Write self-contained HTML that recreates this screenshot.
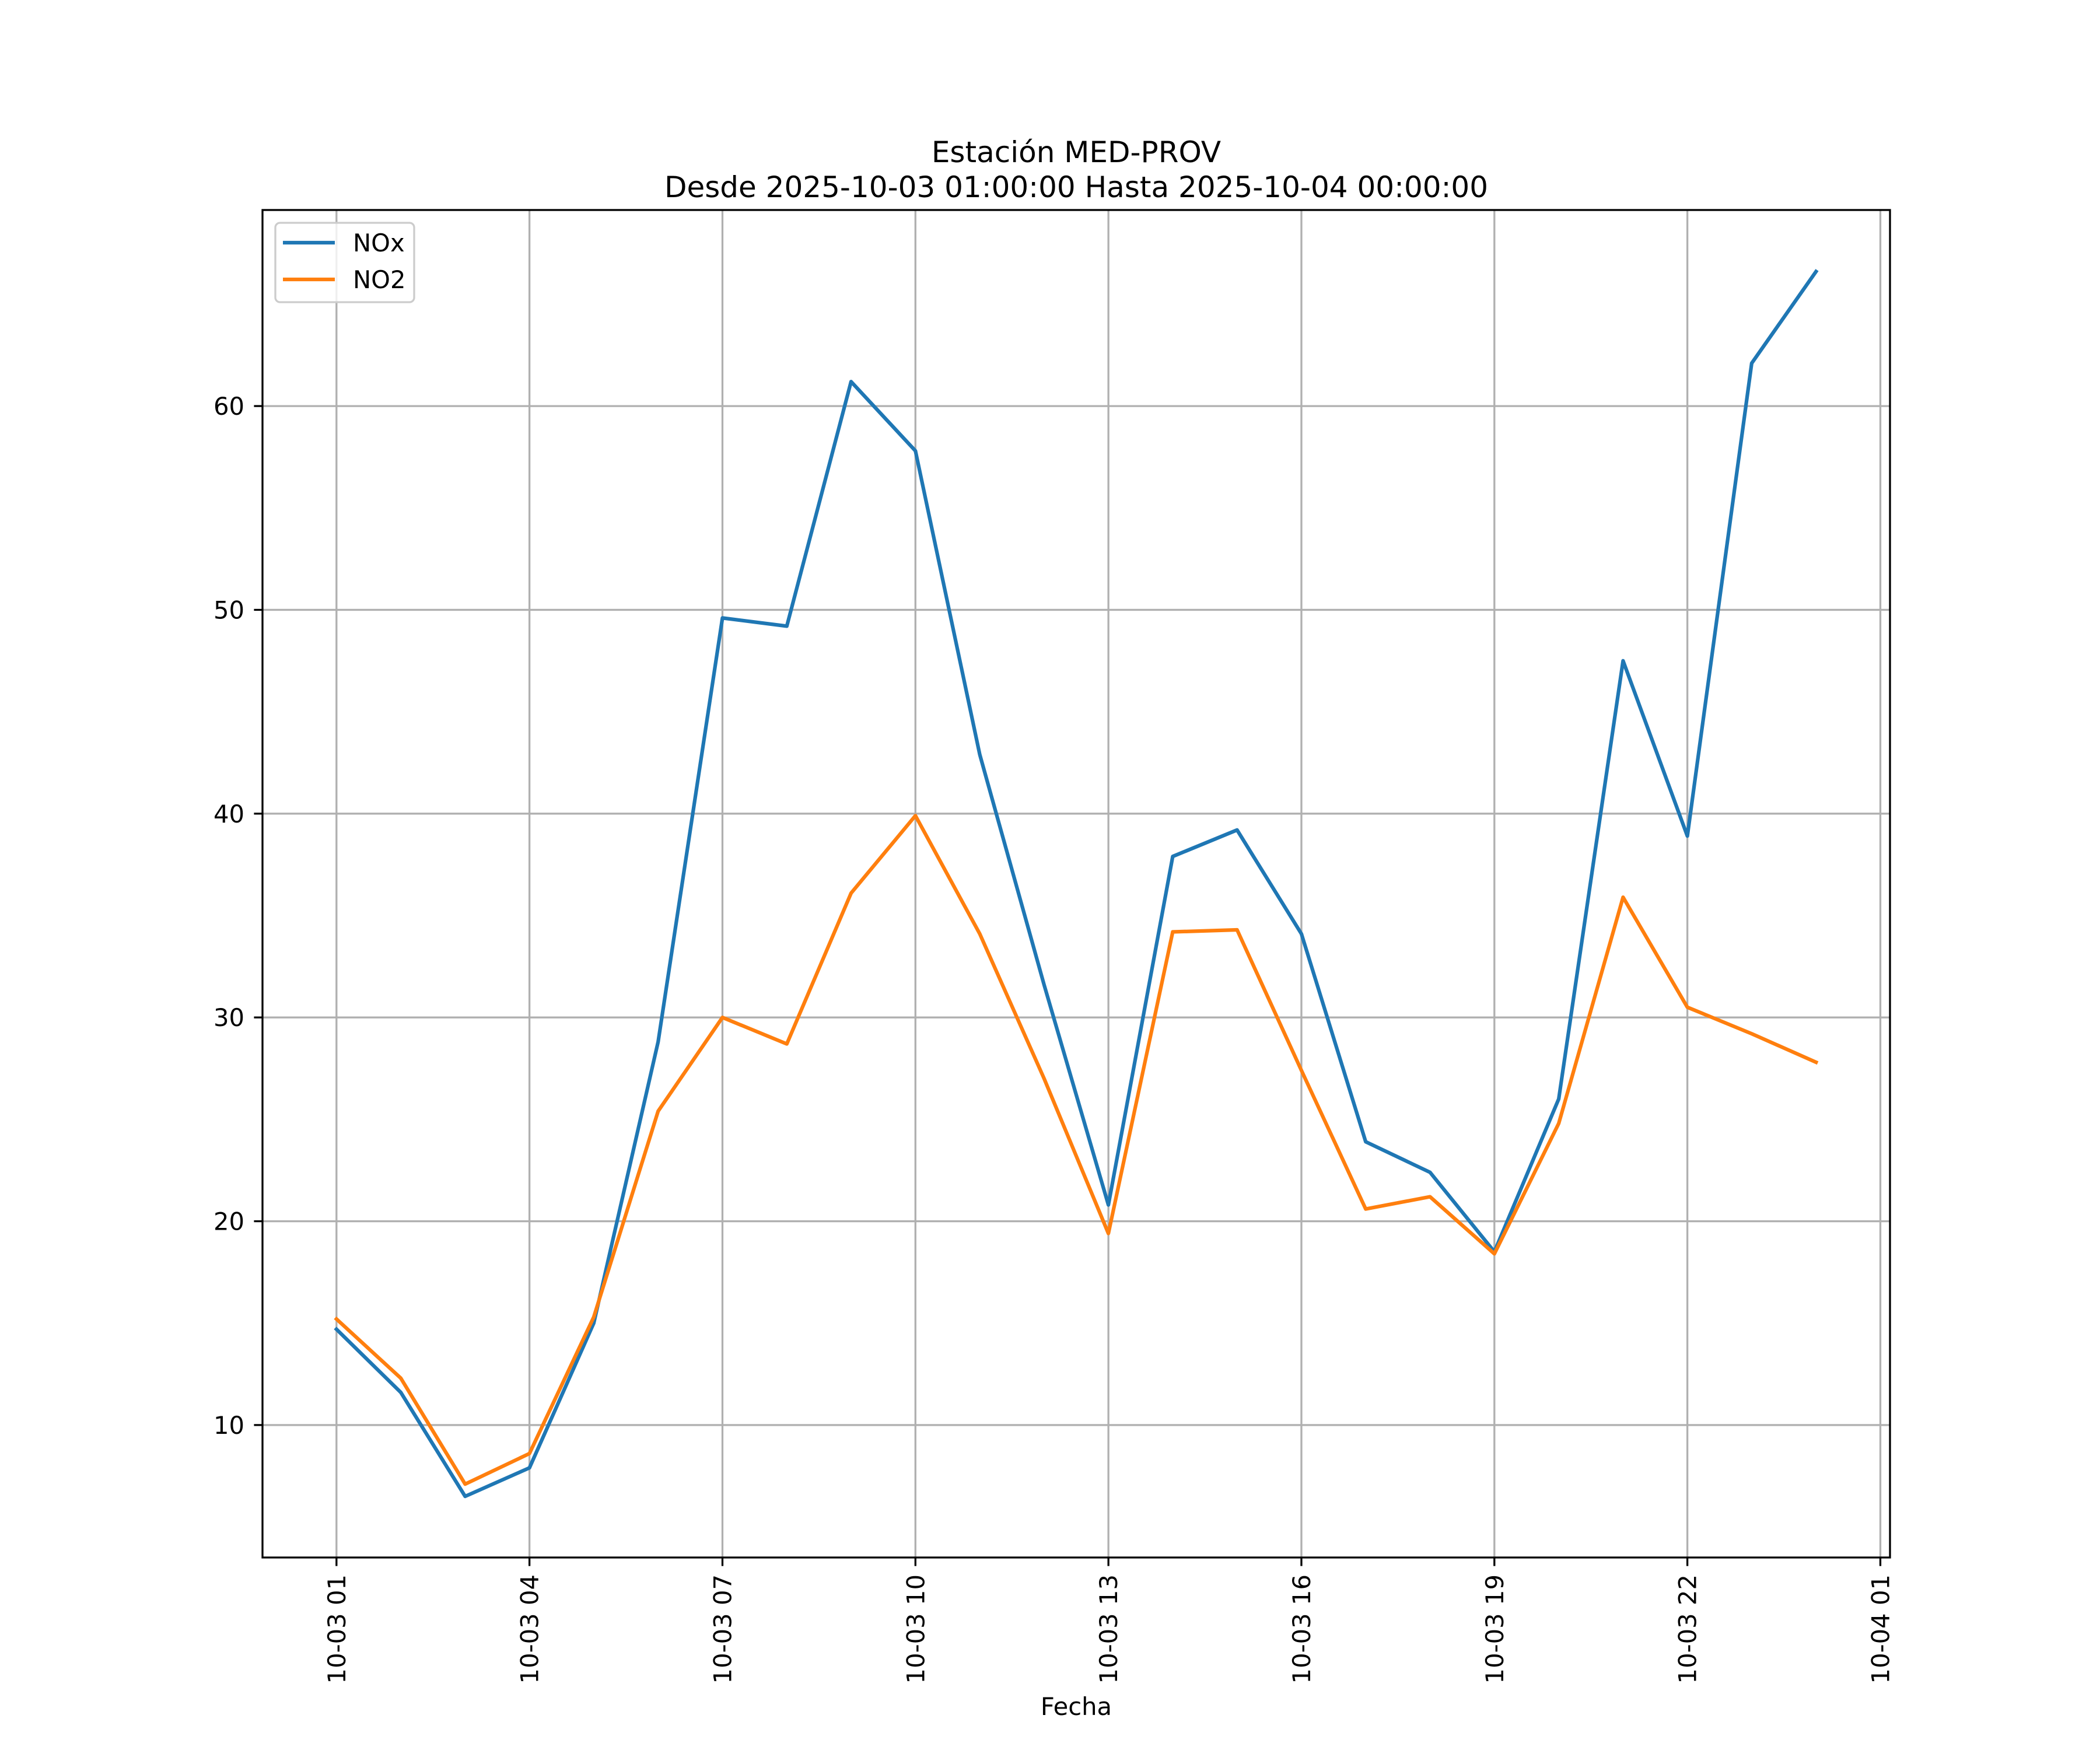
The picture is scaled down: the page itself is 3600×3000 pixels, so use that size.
<!DOCTYPE html>
<html><head><meta charset="utf-8"><style>
html,body{margin:0;padding:0;background:#fff;}
svg{display:block;font-family:"DejaVu Sans","Liberation Sans",sans-serif;}
</style></head><body>
<svg id="chart" width="3600" height="3000" viewBox="0 0 3600 3000" xmlns="http://www.w3.org/2000/svg">
<rect width="3600" height="3000" fill="#fff"/>
<text x="1845" y="278" font-size="50" text-anchor="middle">Estación MED-PROV</text>
<text x="1845" y="338" font-size="50" text-anchor="middle">Desde 2025-10-03 01:00:00 Hasta 2025-10-04 00:00:00</text>
<g id="grid"></g>
<g id="series"></g>
<rect x="450" y="360" width="2790" height="2310" fill="none" stroke="#000" stroke-width="3.3"/>
<g id="ticks"></g>
<text x="1845" y="2940" font-size="41.7" text-anchor="middle">Fecha</text>
<g>
<rect x="472" y="382" width="238" height="136" rx="8" fill="#fff" fill-opacity="0.8" stroke="#cccccc" stroke-width="3.3"/>
<line x1="485" y1="416" x2="574" y2="416" stroke="#1f77b4" stroke-width="6.25"/>
<text x="605" y="431" font-size="41.7">NOx</text>
<line x1="485" y1="479" x2="574" y2="479" stroke="#ff7f0e" stroke-width="6.25"/>
<text x="605" y="494" font-size="41.7">NO2</text>
</g>
</svg>
<script>
const hours = [1,2,3,4,5,6,7,8,9,10,11,12,13,14,15,16,17,18,19,20,21,22,23,24];
const noxValues = [14.7,11.6,6.5,7.9,15.0,28.8,49.6,49.2,61.2,57.8,42.9,31.6,20.8,37.9,39.2,34.1,23.9,22.4,18.5,26.0,47.5,38.9,62.1,66.6];
const no2Values = [15.2,12.3,7.1,8.6,15.3,25.4,30.0,28.7,36.1,39.9,34.1,27.0,19.4,34.2,34.3,27.4,20.6,21.2,18.4,24.8,35.9,30.5,29.2,27.8];
const xTickHours = [1,4,7,10,13,16,19,22,25];
const xTickLabels = ["10-03 01","10-03 04","10-03 07","10-03 10","10-03 13","10-03 16","10-03 19","10-03 22","10-04 01"];
const yTicks = [10,20,30,40,50,60];

const NS = "http://www.w3.org/2000/svg";
const L=450,R=3240,T=360,B=2670;
const xMin=1-1.15,xMax=24+1.15,yMin=3.50,yMax=69.62;
function xs(h){return L+(h-xMin)/(xMax-xMin)*(R-L);}
function ys(v){return B-(v-yMin)/(yMax-yMin)*(B-T);}
function mk(tag,attrs,parent){const e=document.createElementNS(NS,tag);for(const k in attrs)e.setAttribute(k,attrs[k]);parent.appendChild(e);return e;}
const grid=document.getElementById('grid'),ticks=document.getElementById('ticks'),series=document.getElementById('series');
xTickHours.forEach((h,i)=>{
  const x=xs(h);
  const g=mk('line',{x1:x,y1:T,x2:x,y2:B,stroke:'#b0b0b0','stroke-width':3.3},grid);
  
  
  const t=mk('line',{x1:x,y1:B,x2:x,y2:B+14.6,stroke:'#000','stroke-width':3.3},ticks);
  
  
  const lb=mk('text',{x:0,y:0,'font-size':41.7,'text-anchor':'end',transform:`translate(${x+15},${B+29}) rotate(-90)`},ticks);
  lb.textContent=xTickLabels[i];
  
  
});
yTicks.forEach(v=>{
  const y=ys(v);
  const g=mk('line',{x1:L,y1:y,x2:R,y2:y,stroke:'#b0b0b0','stroke-width':3.3},grid);
  
  
  const t=mk('line',{x1:L-14.6,y1:y,x2:L,y2:y,stroke:'#000','stroke-width':3.3},ticks);
  
  
  const lb=mk('text',{x:419,y:y+15,'font-size':41.7,'text-anchor':'end'},ticks);
  lb.textContent=String(v);
  
  
});
function drawLine(vals,color,name){
  const pts=vals.map((v,i)=>xs(hours[i]).toFixed(1)+','+ys(v).toFixed(1)).join(' ');
  const p=mk('polyline',{points:pts,fill:'none',stroke:color,'stroke-width':6.25,'stroke-linejoin':'round','stroke-linecap':'square'},series);
  
  
}
drawLine(noxValues,'#1f77b4','nox-line');
drawLine(no2Values,'#ff7f0e','no2-line');
</script>
</body></html>
